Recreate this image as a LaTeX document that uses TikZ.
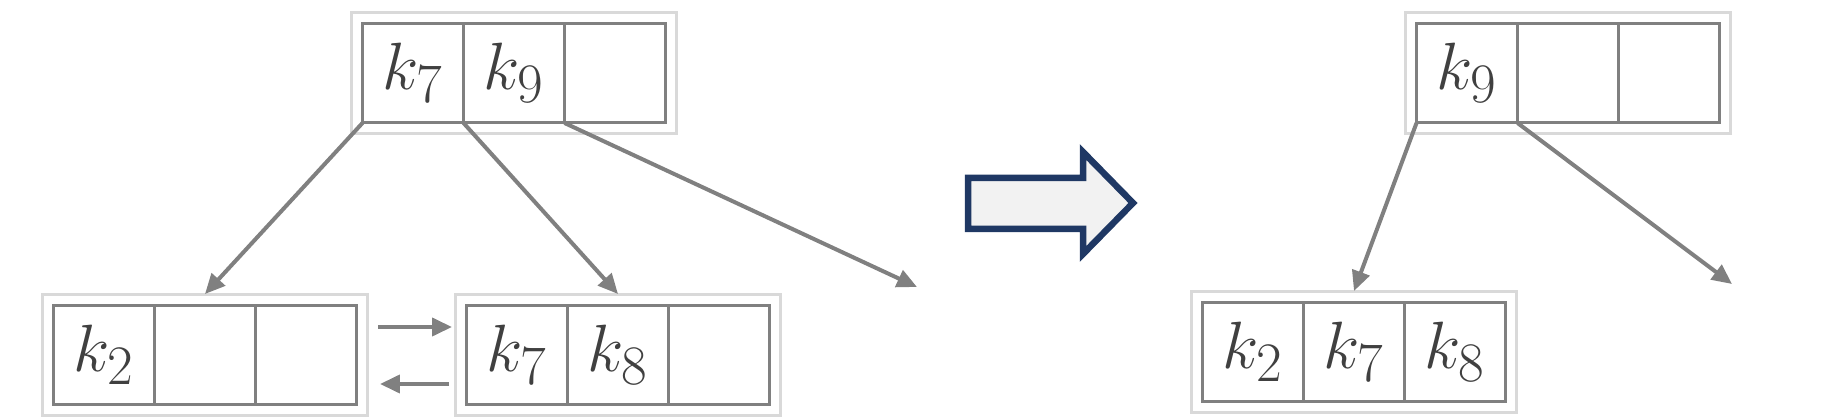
\documentclass[tikz,border=0pt]{standalone}
\usepackage{graphicx}
\usetikzlibrary{arrows.meta}
\definecolor{linegray}{HTML}{808080}
\definecolor{boxgray}{HTML}{D9D9D9}
\definecolor{keygray}{HTML}{404040}
\definecolor{navy}{HTML}{1F3864}
\definecolor{arrowfill}{HTML}{F2F2F2}
\newcommand{\keytext}[1]{\scalebox{1.53}{\Huge$k_{#1}$}}
\begin{document}
\begin{tikzpicture}[x=0.02cm,y=-0.02cm,
    cell/.style={draw=linegray,line width=0.06cm,minimum width=2.02cm,minimum height=2cm,inner sep=0pt,outer sep=0pt,text=keygray},
    nodebox/.style={draw=boxgray,line width=0.06cm,minimum width=6.52cm,minimum height=2.44cm,inner sep=0pt,outer sep=0pt},
    ptr/.style={draw=linegray,line width=0.08cm,-{Triangle[length=0.4cm,width=0.36cm]}}]
	\useasboundingbox (0,0) rectangle (1840,418);
	% before the split
	\node[nodebox](tl) at (514,73){};
	\node[cell](tl1) at (413,73){\keytext{7}};
	\node[cell](tl2) at (514,73){\keytext{9}};
	\node[cell](tl3) at (615,73){};
	\node[nodebox](bl) at (205,355){};
	\node[cell](bl1) at (104,355){\keytext{2}};
	\node[cell](bl2) at (205,355){};
	\node[cell](bl3) at (306,355){};
	\node[nodebox](bm) at (618,355){};
	\node[cell](bm1) at (517,355){\keytext{7}};
	\node[cell](bm2) at (618,355){\keytext{8}};
	\node[cell](bm3) at (719,355){};
	\coordinate (tlfree) at (917,287);
	\coordinate (nxtA) at (378,327);
	\coordinate (nxtB) at (452,327);
	\coordinate (prvA) at (449,384);
	\coordinate (prvB) at (380,384);
	\draw[ptr](tl1.south west)--(bl.north);
	\draw[ptr](tl2.south west)--(bm.north);
	\draw[ptr](tl3.south west)--(tlfree);
	\draw[ptr](nxtA)--(nxtB);
	\draw[ptr](prvA)--(prvB);
	% big arrow
	\draw[navy,fill=arrowfill,line width=0.13cm](968,178)--(1083,178)--(1083,152)--(1133,203)--(1083,254)--(1083,229)--(968,229)--cycle;
	% after the merge
	\node[nodebox](tr) at (1568,73){};
	\node[cell](tr1) at (1467,73){\keytext{9}};
	\node[cell](tr2) at (1568,73){};
	\node[cell](tr3) at (1669,73){};
	\node[nodebox](br) at (1354,352){};
	\node[cell](br1) at (1253,352){\keytext{2}};
	\node[cell](br2) at (1354,352){\keytext{7}};
	\node[cell](br3) at (1455,352){\keytext{8}};
	\coordinate (trfree) at (1732,284);
	\draw[ptr](tr1.south west)--(br.north);
	\draw[ptr](tr2.south west)--(trfree);
\end{tikzpicture}
\end{document}
